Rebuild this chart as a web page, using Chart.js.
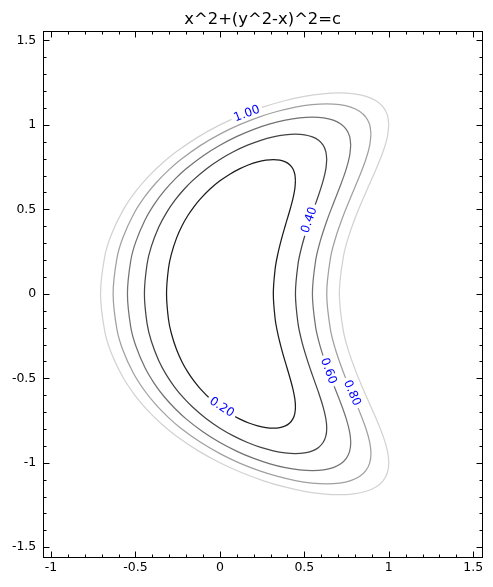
<!DOCTYPE html>
<html>
<head>
<meta charset="utf-8">
<script src="https://cdn.jsdelivr.net/npm/chart.js@4"></script>
<style>
  html, body { margin: 0; padding: 0; background: #fff; }
</style>
</head>
<body>
<canvas id="plot" width="493" height="587"></canvas>
<script>
// levels of x^2+(y^2-x)^2=c, upper half of each curve (lower half is the mirror)
const levels = [0.2, 0.4, 0.6, 0.8, 1.0];

const c02x = [0.3162, 0.3271, 0.3426, 0.3664, 0.3873, 0.4132, 0.4320, 0.4434, 0.4472, 0.4434, 0.4320, 0.4132, 0.3873, 0.3548, 0.3162, 0.2722, 0.2236, 0.1711, 0.1157, 0.0584, 0, -0.0584, -0.1157, -0.1530, -0.1890, -0.2236, -0.2565, -0.2875, -0.3050, -0.3162];
const c02y = [0, 0.1486, 0.2349, 0.3314, 0.4046, 0.4920, 0.5624, 0.6205, 0.6688, 0.7084, 0.7401, 0.7644, 0.7816, 0.7919, 0.7953, 0.7919, 0.7816, 0.7644, 0.7401, 0.7084, 0.6688, 0.6205, 0.5624, 0.5170, 0.4651, 0.4046, 0.3314, 0.2349, 0.1486, 0];

const c04x = [0.4472, 0.4626, 0.4845, 0.5181, 0.5477, 0.5844, 0.6109, 0.6271, 0.6325, 0.6271, 0.6109, 0.5843, 0.5477, 0.5018, 0.4472, 0.3850, 0.3162, 0.2420, 0.1637, 0.0826, 0, -0.0826, -0.1637, -0.2163, -0.2673, -0.3162, -0.3628, -0.4066, -0.4314, -0.4472];
const c04y = [0, 0.1767, 0.2793, 0.3941, 0.4811, 0.5850, 0.6687, 0.7379, 0.7952, 0.8424, 0.8801, 0.9090, 0.9294, 0.9417, 0.9457, 0.9417, 0.9294, 0.9090, 0.8801, 0.8424, 0.7952, 0.7379, 0.6687, 0.6148, 0.5530, 0.4811, 0.3941, 0.2793, 0.1767, 0];

const c06x = [0.5477, 0.5665, 0.5933, 0.6345, 0.6708, 0.7157, 0.7482, 0.7680, 0.7746, 0.7680, 0.7482, 0.7156, 0.6708, 0.6145, 0.5477, 0.4716, 0.3873, 0.2964, 0.2005, 0.1011, 0, -0.1011, -0.2005, -0.2649, -0.3273, -0.3873, -0.4443, -0.4979, -0.5283, -0.5477];
const c06y = [0, 0.1955, 0.3091, 0.4361, 0.5324, 0.6474, 0.7401, 0.8166, 0.8801, 0.9322, 0.9740, 1.0060, 1.0286, 1.0422, 1.0466, 1.0422, 1.0286, 1.0060, 0.9740, 0.9322, 0.8801, 0.8166, 0.7401, 0.6804, 0.6121, 0.5324, 0.4361, 0.3091, 0.1955, 0];

const c08x = [0.6325, 0.6542, 0.6851, 0.7327, 0.7746, 0.8263, 0.8639, 0.8868, 0.8944, 0.8868, 0.8639, 0.8264, 0.7746, 0.7096, 0.6325, 0.5445, 0.4472, 0.3423, 0.2315, 0.1168, 0, -0.1168, -0.2315, -0.3059, -0.3780, -0.4472, -0.5130, -0.5749, -0.6100, -0.6325];
const c08y = [0, 0.2101, 0.3321, 0.4687, 0.5721, 0.6957, 0.7953, 0.8775, 0.9458, 1.0018, 1.0466, 1.0810, 1.1054, 1.1199, 1.1247, 1.1199, 1.1054, 1.0810, 1.0466, 1.0018, 0.9458, 0.8775, 0.7953, 0.7311, 0.6577, 0.5721, 0.4687, 0.3321, 0.2101, 0];

const c10x = [0.7071, 0.7314, 0.7660, 0.8192, 0.8660, 0.9239, 0.9659, 0.9914, 1, 0.9914, 0.9659, 0.9239, 0.8660, 0.7934, 0.7071, 0.6088, 0.5, 0.3827, 0.2588, 0.1305, 0, -0.1305, -0.2588, -0.3420, -0.4226, -0.5, -0.5736, -0.6428, -0.6820, -0.7071];
const c10y = [0, 0.2221, 0.3512, 0.4955, 0.6049, 0.7356, 0.8409, 0.9279, 1.0, 1.0592, 1.1067, 1.1431, 1.1687, 1.1841, 1.1892, 1.1841, 1.1687, 1.1431, 1.1067, 1.0592, 1.0, 0.9279, 0.8409, 0.7731, 0.6954, 0.6049, 0.4955, 0.3512, 0.2221, 0];

// inline contour labels
const labelText = ["0.20", "0.40", "0.60", "0.80", "1.00"];
const labelX = [0.01, 0.53, 0.642, 0.781, 0.16];
const labelY = [-0.672, 0.437, -0.457, -0.587, 1.066];
const labelAngle = [33, -71, 70, 67, -21];

const xTicks = [-1, -0.5, 0, 0.5, 1, 1.5];
const yTicks = [-1.5, -1, -0.5, 0, 0.5, 1, 1.5];

const lineColors = ["#1c1c1c", "#444444", "#727272", "#a0a0a0", "#d2d2d2"];

function closedCurve(xs, ys) {
  const pts = [];
  for (let i = 0; i < xs.length; i++) pts.push({ x: xs[i], y: ys[i] });
  for (let i = xs.length - 2; i >= 0; i--) pts.push({ x: xs[i], y: -ys[i] });
  // start/end at the rightmost top point so the seam is smooth
  return pts.slice(8).concat(pts.slice(1, 9));
}

const curves = [[c02x, c02y], [c04x, c04y], [c06x, c06y], [c08x, c08y], [c10x, c10y]];

const datasets = curves.map((c, i) => ({
  label: String(levels[i]),
  data: closedCurve(c[0], c[1]),
  showLine: true,
  borderColor: lineColors[i],
  borderWidth: 1.25,
  pointRadius: 0,
  tension: 0.35,
  fill: false,
}));

function tickList(arr) {
  return arr.map(v => ({ value: v }));
}

const decor = {
  id: "decor",
  afterDatasetsDraw(chart) {
    const { ctx, chartArea: a, scales } = chart;
    const sx = scales.x, sy = scales.y;

    // contour labels with a gap in the line
    ctx.save();
    ctx.font = '12px "DejaVu Sans"';
    ctx.textAlign = "center";
    ctx.textBaseline = "middle";
    labelText.forEach((t, i) => {
      const px = sx.getPixelForValue(labelX[i]);
      const py = sy.getPixelForValue(labelY[i]);
      const w = ctx.measureText(t).width;
      ctx.save();
      ctx.translate(px, py);
      ctx.rotate(labelAngle[i] * Math.PI / 180);
      ctx.fillStyle = "#fff";
      ctx.fillRect(-w / 2 - 3, -4, w + 6, 8);
      ctx.fillStyle = "#0000ff";
      ctx.fillText(t, 0, 0);
      ctx.restore();
    });
    ctx.restore();

    // frame
    ctx.save();
    ctx.strokeStyle = "#000";
    ctx.lineWidth = 1;
    const L = Math.round(a.left) + 0.5, R = Math.round(a.right) + 0.5;
    const T = Math.round(a.top) + 0.5, B = Math.round(a.bottom) + 0.5;
    ctx.strokeRect(L, T, R - L, B - T);

    // inward ticks, major and minor, on all four sides
    ctx.beginPath();
    for (let k = -10; k <= 15; k++) {
      const v = k / 10;
      const major = k % 5 === 0;
      const len = major ? 6 : 3;
      const px = Math.round(sx.getPixelForValue(v)) + 0.5;
      ctx.moveTo(px, B); ctx.lineTo(px, B - len);
      ctx.moveTo(px, T); ctx.lineTo(px, T + len);
    }
    for (let k = -15; k <= 15; k++) {
      const v = k / 10;
      const major = k % 5 === 0;
      const len = major ? 6 : 3;
      const py = Math.round(sy.getPixelForValue(v)) + 0.5;
      ctx.moveTo(L, py); ctx.lineTo(L + len, py);
      ctx.moveTo(R, py); ctx.lineTo(R - len, py);
    }
    ctx.stroke();

    // title
    ctx.fillStyle = "#000";
    ctx.font = '16.4px "DejaVu Sans"';
    ctx.textAlign = "center";
    ctx.textBaseline = "alphabetic";
    ctx.fillText("x^2+(y^2-x)^2=c", (a.left + a.right) / 2, 24);
    ctx.restore();
  },
};

new Chart(document.getElementById("plot"), {
  type: "scatter",
  data: { datasets },
  options: {
    responsive: false,
    animation: false,
    layout: { padding: { top: 31, right: 11, left: 0, bottom: 0 } },
    plugins: { legend: { display: false }, tooltip: { enabled: false }, title: { display: false } },
    scales: {
      x: {
        type: "linear",
        min: -1.046,
        max: 1.552,
        grid: { display: false, drawTicks: false },
        border: { display: false },
        afterBuildTicks: s => { s.ticks = tickList(xTicks); },
        afterFit: s => { s.height = 30.3; },
        ticks: {
          color: "#000",
          padding: 4,
          maxRotation: 0,
          font: { family: "DejaVu Sans", size: 12.5 },
          callback: v => String(v),
        },
      },
      y: {
        type: "linear",
        min: -1.556,
        max: 1.556,
        grid: { display: false, drawTicks: false },
        border: { display: false },
        afterBuildTicks: s => { s.ticks = tickList(yTicks); },
        afterFit: s => { s.width = 43.3; },
        ticks: {
          color: "#000",
          padding: 7,
          font: { family: "DejaVu Sans", size: 12.5 },
          callback: v => String(v),
        },
      },
    },
  },
  plugins: [decor],
});
</script>
</body>
</html>
